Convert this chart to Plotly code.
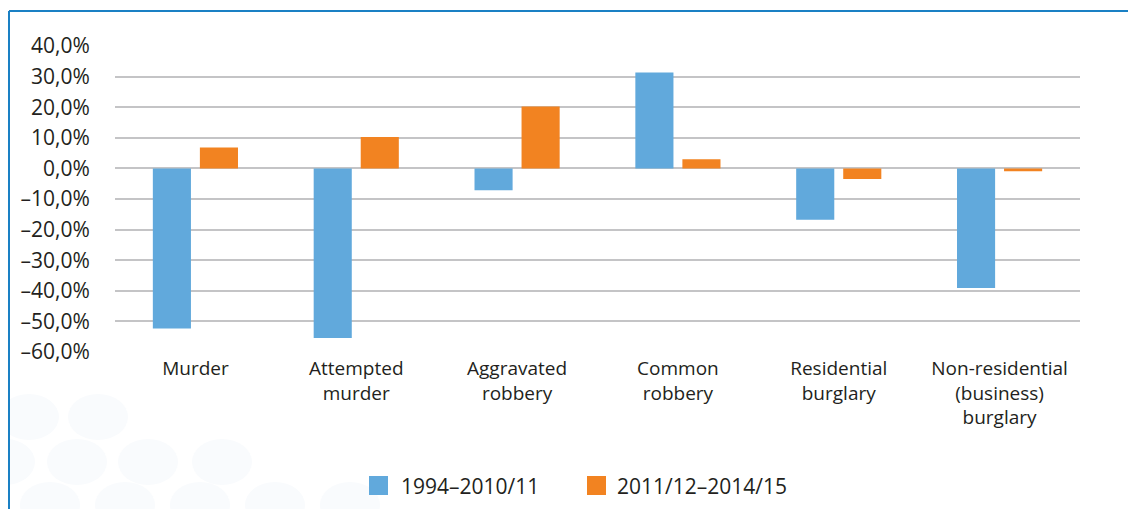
import plotly.graph_objects as go

categories = ["Murder", "Attempted<br>murder", "Aggravated<br>robbery", "Common<br>robbery",
              "Residential<br>burglary", "Non-residential<br>(business)<br>burglary"]
period_1 = [-52.3, -55.4, -7.1, 31.3, -16.8, -39.1]
period_2 = [6.8, 10.3, 20.2, 3.0, -3.5, -0.9]
series_names = ["1994–2010/11", "2011/12–2014/15"]
tick_vals = [40, 30, 20, 10, 0, -10, -20, -30, -40, -50, -60]
tick_text = ["40,0%", "30,0%", "20,0%", "10,0%", "0,0%", "–10,0%", "–20,0%",
             "–30,0%", "–40,0%", "–50,0%", "–60,0%"]

colors = {'blue': '#61a9dc', 'orange': '#f28321', 'grid': '#c4c4c6', 'text': '#231f20',
          'frame': '#1a80c4', 'dots': '#f9fbfd'}
FONT = "Open Sans"

# the page body has an 8px margin, so work in window pixels and shift
OFF = 8
W, H = 1136 - OFF, 509 - OFF
L, R, T, B = 115 - OFF, 1080 - OFF, 46 - OFF, 352 - OFF


def px(x):
    return (x - OFF - L) / (R - L)


def py(y):
    return (B - (y - OFF)) / (B - T)


fig = go.Figure()
fig.add_trace(go.Bar(x=categories, y=period_1, name=series_names[0],
                     marker=dict(color=colors['blue'], line_width=0), showlegend=False))
fig.add_trace(go.Bar(x=categories, y=period_2, name=series_names[1],
                     marker=dict(color=colors['orange'], line_width=0), showlegend=False))

shapes = []
# faint decorative dots, bottom left
dots = [(29, 417), (98, 417), (5, 462), (77, 462), (148, 462), (222, 462),
        (50, 505), (125, 505), (200, 505), (275, 505), (350, 505)]
for cx, cy in dots:
    shapes.append(dict(type='circle', xref='paper', yref='paper', layer='below',
                       x0=px(cx - 30), x1=px(cx + 30), y0=py(cy + 23), y1=py(cy - 23),
                       fillcolor=colors['dots'], line_width=0))
# frame lines (top and left)
shapes.append(dict(type='line', xref='paper', yref='paper', x0=px(9), x1=px(1140),
                   y0=py(11), y1=py(11), line=dict(color=colors['frame'], width=2)))
shapes.append(dict(type='line', xref='paper', yref='paper', x0=px(9), x1=px(9),
                   y0=py(11), y1=py(515), line=dict(color=colors['frame'], width=2)))

# legend drawn by hand to get the large square keys
annotations = []
for (x0, tx), name, c in zip([(369, 399), (587, 615)], series_names, [colors['blue'], colors['orange']]):
    shapes.append(dict(type='rect', xref='paper', yref='paper', x0=px(x0), x1=px(x0 + 19),
                       y0=py(495), y1=py(476), fillcolor=c, line_width=0))
    annotations.append(dict(x=px(tx), y=py(486), xref='paper', yref='paper', text=name,
                            showarrow=False, xanchor='left', yanchor='middle',
                            font=dict(size=21, color=colors['text'], family=FONT)))

fig.update_layout(
    width=W, height=H,
    margin=dict(l=L, r=W - R, t=T, b=H - B),
    paper_bgcolor='white', plot_bgcolor='white',
    font=dict(family=FONT, color=colors['text']),
    barmode='group', bargap=0.415, bargroupgap=0.19,
    shapes=shapes, annotations=annotations,
)
fig.update_xaxes(showgrid=False, showline=False, zeroline=False,
                 tickfont=dict(size=19, color=colors['text'], family=FONT),
                 ticks='', ticklabelstandoff=3)
fig.update_yaxes(range=[-60, 40], tickvals=tick_vals, ticktext=tick_text,
                 showgrid=True, gridcolor=colors['grid'], gridwidth=1.5,
                 zeroline=False, showline=False,
                 tickfont=dict(size=21, color=colors['text'], family=FONT),
                 ticks='outside', ticklen=20, tickcolor='rgba(0,0,0,0)')

fig.write_html("out.html")
